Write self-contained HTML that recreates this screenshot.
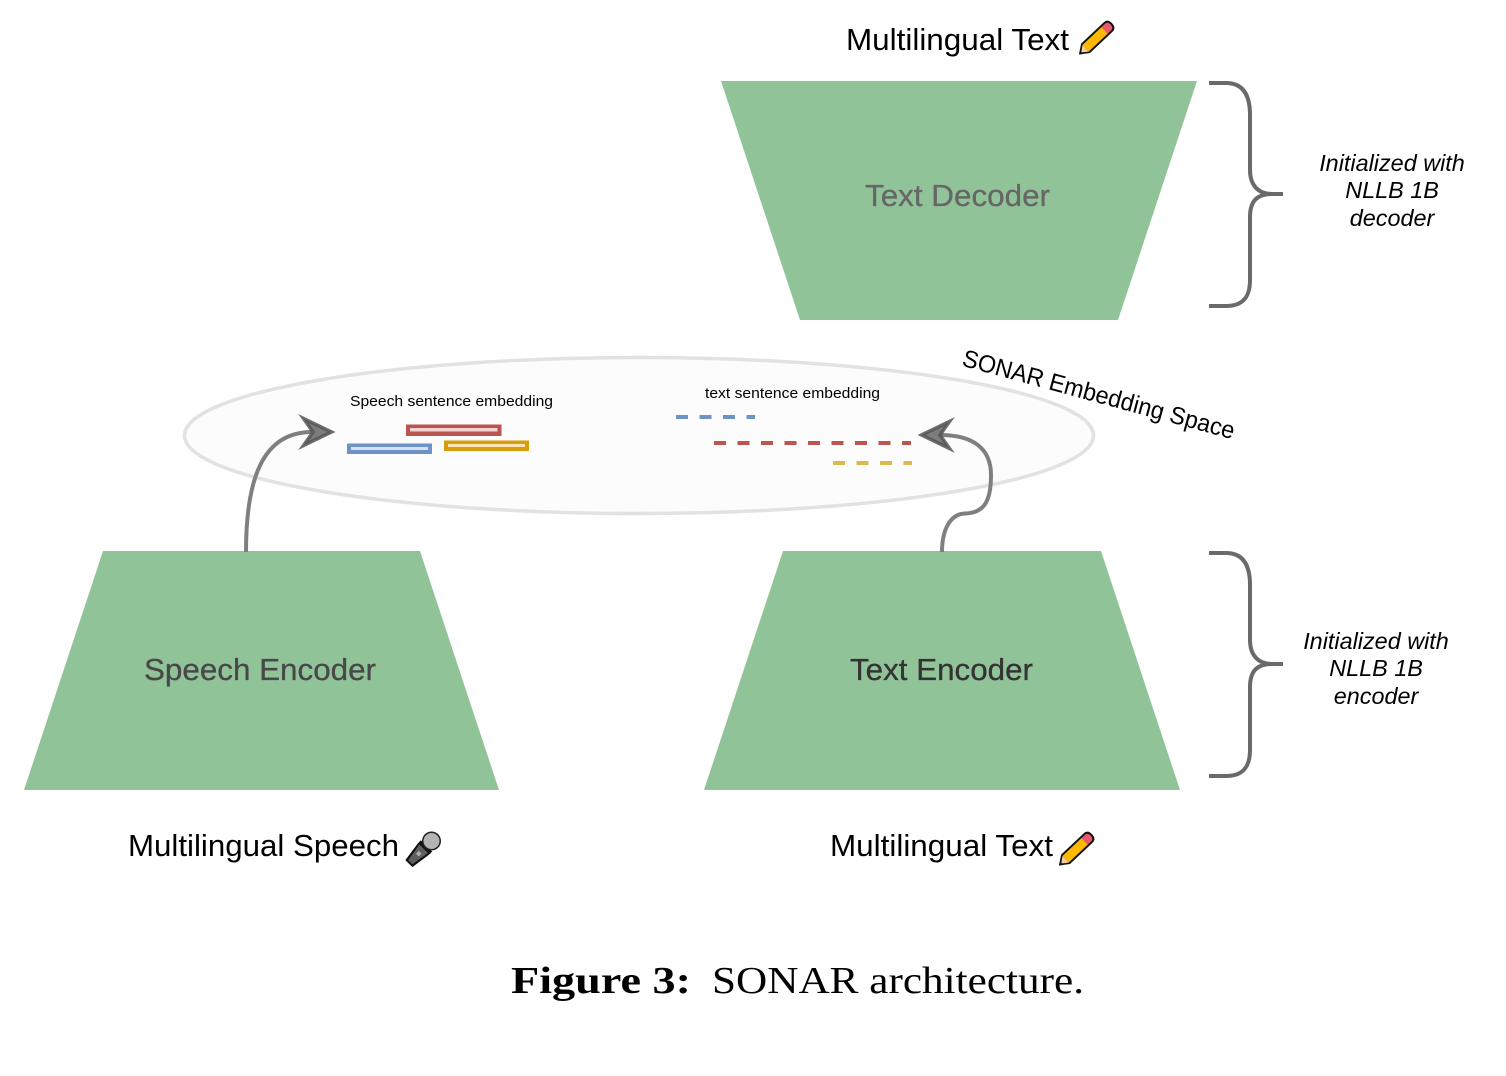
<!DOCTYPE html>
<html>
<head>
<meta charset="utf-8">
<style>
html,body{margin:0;padding:0;background:#fff;width:1506px;height:1076px;overflow:hidden}
svg{display:block}
text{font-family:"Liberation Sans",sans-serif}
.cap{font-family:"Liberation Serif",serif}
</style>
</head>
<body>
<svg width="1506" height="1076" viewBox="0 0 1506 1076" xmlns="http://www.w3.org/2000/svg">
<defs>
<g id="pencil">
<g transform="translate(1079 54.500) rotate(-43.300)">
<path d="M0 0 L9 -6.500 H40 Q45.500 -6.500 45.500 0 Q45.500 6.500 40 6.500 H9 Z" fill="#111"/>
<rect x="9" y="-4.500" width="27" height="9" fill="#fdb900"/>
<path d="M35 -4.500 H40 Q43.500 -4.500 43.500 0 Q43.500 4.500 40 4.500 H35 Z" fill="#e8596a"/>
<path d="M3 0 L9 -4.500 V4.500 Z" fill="#f3cfa3"/>
<path d="M0 0 L3.500 -2.500 V2.500 Z" fill="#111"/>
</g>
</g>
<path id="bracepath" d="M1209 83 H1226 C1243 83 1250 95 1250 115 V170 C1250 185 1258 194 1272 194 H1283 M1272 194 C1258 194 1250 200 1250 217 V280 C1250 297 1243 306 1226 306 H1209"/>
</defs>

<!-- Trapezoids -->
<polygon points="721,81 1197,81 1118,320 800,320" fill="#91c398"/>
<polygon points="103,551 420,551 499,790 24,790" fill="#91c398"/>
<polygon points="783,551 1101,551 1180,790 704,790" fill="#91c398"/>

<text x="865" y="206" font-size="31" fill="#666" stroke="#666" stroke-width=".3" textLength="185" lengthAdjust="spacingAndGlyphs">Text Decoder</text>
<text x="144" y="680" font-size="31" fill="#484848" stroke="#484848" stroke-width=".3" textLength="232" lengthAdjust="spacingAndGlyphs">Speech Encoder</text>
<text x="850" y="680" font-size="31" fill="#333" stroke="#333" stroke-width=".3" textLength="183" lengthAdjust="spacingAndGlyphs">Text Encoder</text>

<!-- Ellipse -->
<ellipse cx="639" cy="435.500" rx="454.500" ry="78" fill="#fcfcfc" stroke="#e2e2e2" stroke-width="3.500"/>

<!-- Labels in ellipse -->
<text x="350" y="406" font-size="15" fill="#000" textLength="203" lengthAdjust="spacingAndGlyphs">Speech sentence embedding</text>
<text x="705" y="398" font-size="15" fill="#000" textLength="175" lengthAdjust="spacingAndGlyphs">text sentence embedding</text>
<text transform="translate(961 365.500) rotate(15.200)" font-size="24.500" fill="#000" textLength="281" lengthAdjust="spacingAndGlyphs">SONAR Embedding Space</text>

<!-- Speech bars -->
<rect x="406" y="424.500" width="95.500" height="11.500" fill="#bb5550"/>
<rect x="410" y="428" width="87.500" height="3.500" fill="#f6d3d0"/>
<rect x="347" y="443.500" width="85" height="10.500" fill="#6f93c6"/>
<rect x="351" y="447" width="77" height="3" fill="#d5e2f3"/>
<rect x="444" y="440.500" width="85" height="10.500" fill="#d99c0b"/>
<rect x="448" y="444" width="77" height="3" fill="#fce4b4"/>

<!-- Text dashes -->
<line x1="676" y1="417" x2="755" y2="417" stroke="#6f93c6" stroke-width="4" stroke-dasharray="12 11.500"/>
<line x1="714" y1="443" x2="911" y2="443" stroke="#bb5550" stroke-width="4" stroke-dasharray="12 11.500"/>
<line x1="833" y1="463" x2="912" y2="463" stroke="#dfb84f" stroke-width="4" stroke-dasharray="12 11.500"/>

<!-- Arrows -->
<path d="M246 552 C246 480 262 432 312 432" fill="none" stroke="#7f7f7f" stroke-width="4"/>
<polygon points="331.500,432 303.500,418.500 313,432 303.500,445.500" fill="#7c7c7c" stroke="#555" stroke-width="3.500" stroke-linejoin="miter" stroke-opacity=".85"/>
<path d="M942 552 C942 530 950 514 965 513.500 C985 513 991 500 991 475 C991 450 975 435 940 435" fill="none" stroke="#7f7f7f" stroke-width="4"/>
<polygon points="921.500,435 949.500,421.500 940,435 949.500,448.500" fill="#7c7c7c" stroke="#555" stroke-width="3.500" stroke-linejoin="miter" stroke-opacity=".85"/>

<!-- Braces -->
<g fill="none" stroke="#6a6a6a" stroke-width="4">
<use href="#bracepath"/>
<use href="#bracepath" transform="translate(0 470)"/>
</g>

<!-- Brace labels -->
<g font-size="23.400" font-style="italic" fill="#000" text-anchor="middle">
<text x="1392" y="171">Initialized with</text>
<text x="1392" y="198">NLLB 1B</text>
<text x="1392" y="226">decoder</text>
<text x="1376" y="649">Initialized with</text>
<text x="1376" y="676">NLLB 1B</text>
<text x="1376" y="704">encoder</text>
</g>

<!-- Top/bottom labels -->
<text x="846" y="50" font-size="31" fill="#000" textLength="223" lengthAdjust="spacingAndGlyphs">Multilingual Text</text>
<use href="#pencil"/>
<text x="128" y="856" font-size="31" fill="#000" textLength="271" lengthAdjust="spacingAndGlyphs">Multilingual Speech</text>
<text x="830" y="856" font-size="31" fill="#000" textLength="223" lengthAdjust="spacingAndGlyphs">Multilingual Text</text>
<use href="#pencil" transform="translate(-20 811)"/>

<!-- Microphone -->
<g transform="translate(411 861.500) rotate(-45)">
<path d="M-3 -5 L18 -8 H22 V8 H18 L-3 5 Z" fill="#111"/>
<path d="M-1 -3 L18 -6 V6 L-1 3 Z" fill="#5e5e5e"/>
<rect x="9" y="-2" width="4" height="4" fill="#aaa"/>
<circle cx="29" cy="0" r="9.500" fill="#222"/>
<circle cx="29" cy="0" r="8" fill="#b4b4b4"/>
</g>

<!-- Caption -->
<text class="cap" x="511" y="993" font-size="38" font-weight="bold" fill="#000" textLength="180" lengthAdjust="spacingAndGlyphs">Figure 3:</text>
<text class="cap" x="712" y="993" font-size="38" fill="#000" textLength="372" lengthAdjust="spacingAndGlyphs">SONAR architecture.</text>
</svg>
</body>
</html>
